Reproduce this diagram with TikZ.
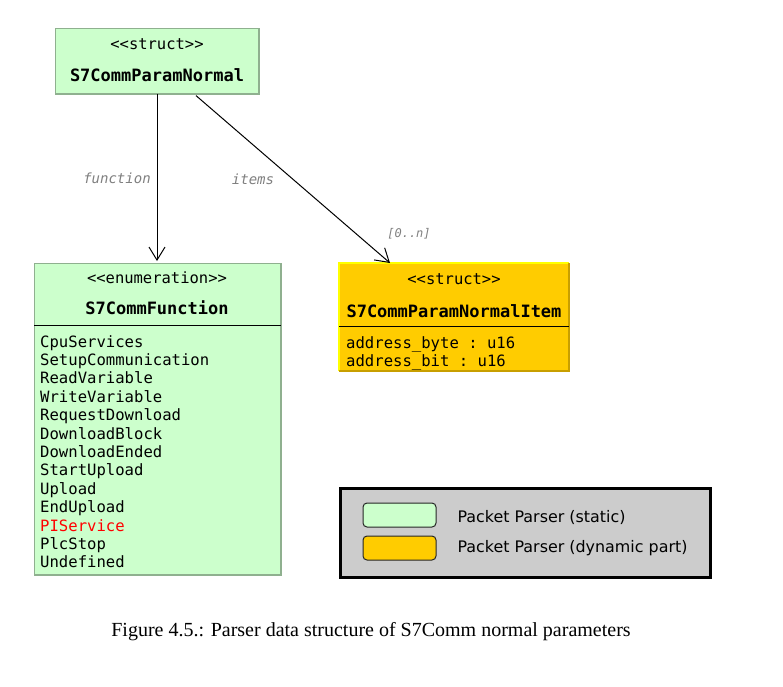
\documentclass[tikz,border=0pt]{standalone}
\usepackage{fontspec}
\setmainfont{Liberation Serif}
\setsansfont{DejaVu Sans}
\setmonofont{DejaVu Sans Mono}
\usetikzlibrary{arrows.meta}

\definecolor{staticgreen}{HTML}{CCFFCC}
\definecolor{staticedge}{HTML}{8FB08F}
\definecolor{dynorange}{HTML}{FFCC00}
\definecolor{dynedge}{HTML}{C89F00}
\definecolor{dynlight}{HTML}{FFFF00}
\definecolor{legendgray}{HTML}{CCCCCC}
\definecolor{labelgray}{HTML}{7F7F7F}

\tikzset{
  classbox/.style={rectangle, inner sep=0pt, anchor=north west},
  stereo/.style={font=\ttfamily\fontsize{15.5}{18}\selectfont},
  classname/.style={font=\ttfamily\bfseries\fontsize{17}{20}\selectfont},
  members/.style={font=\ttfamily\fontsize{15.6}{18.4}\selectfont,
    align=left, anchor=north west, inner sep=0pt},
  rolelabel/.style={font=\ttfamily\itshape\fontsize{14}{16}\selectfont, text=labelgray},
  assoc/.style={line width=1pt, -{Straight Barb[length=13pt,width=16pt]}},
  swatch/.style={rectangle, rounded corners=4pt, draw=black!85, line width=1pt,
    minimum width=73pt, minimum height=24pt, inner sep=0pt},
  legendtext/.style={font=\sffamily\fontsize{15.9}{18}\selectfont, anchor=west}
}

\begin{document}
\begin{tikzpicture}[x=1pt, y=-1pt]
  \useasboundingbox (0,0) rectangle (783,686);

  % struct S7CommParamNormal
  \node (param) [classbox, fill=staticgreen, draw=staticedge, line width=0.6pt,
    minimum width=203pt, minimum height=65pt] at (55,28) {};
  \draw [staticedge, line width=2pt] (param.north east) -- (param.south east) -- (param.south west);
  \node (paramst) [stereo] at (157,44) {<<struct>>};
  \node (paramname) [classname] at (157,75) {S7CommParamNormal};

  % enumeration S7CommFunction
  \node (func) [classbox, fill=staticgreen, draw=staticedge, line width=0.6pt,
    minimum width=246pt, minimum height=311pt] at (34,263) {};
  \draw [staticedge, line width=2pt] (func.north east) -- (func.south east) -- (func.south west);
  \node (funcst) [stereo] at (157,278) {<<enumeration>>};
  \node (funcname) [classname] at (157,308) {S7CommFunction};
  \draw [line width=1pt] ([yshift=-62pt]func.north west) -- ([yshift=-62pt]func.north east);
  \node (funcitems) [members] at (40,335) {CpuServices\\SetupCommunication\\ReadVariable\\
    WriteVariable\\RequestDownload\\DownloadBlock\\DownloadEnded\\StartUpload\\Upload\\
    EndUpload\\\textcolor{red}{PIService}\\PlcStop\\Undefined};

  % struct S7CommParamNormalItem
  \node (item) [classbox, fill=dynorange, minimum width=230pt, minimum height=108pt] at (339,263) {};
  \draw [dynlight, line width=2pt] (item.south west) -- (item.north west) -- (item.north east);
  \draw [dynedge, line width=2pt] (item.north east) -- (item.south east) -- (item.south west);
  \node (itemst) [stereo] at (454,279) {<<struct>>};
  \node (itemname) [classname] at (454,311) {S7CommParamNormalItem};
  \draw [line width=1pt] ([yshift=-63pt]item.north west) -- ([yshift=-63pt]item.north east);
  \node (itemmembers) [members] at (346,336) {address\_byte : u16\\address\_bit : u16};

  % associations
  \draw [assoc] ([xshift=102pt]param.south west) -- ([xshift=123pt,yshift=2pt]func.north west);
  \draw [assoc] ([xshift=141pt,yshift=-2pt]param.south west) -- ([xshift=51pt]item.north west);
  \node (funclabel) [rolelabel] at (117,178) {function};
  \node (itemslabel) [rolelabel] at (253,179) {items};
  \node (multlabel) [rolelabel, font=\ttfamily\itshape\fontsize{12}{14}\selectfont] at (409,234) {[0..n]};

  % legend
  \node (legend) [classbox, fill=legendgray, draw=black, line width=2.5pt,
    minimum width=370pt, minimum height=89pt] at (339,487) {};
  \node (swstatic) [swatch, fill=staticgreen] at (399.5,515) {};
  \node (swdynamic) [swatch, fill=dynorange] at (399.5,548) {};
  \node (lgstatic) [legendtext] at (454,517) {Packet Parser (static)};
  \node (lgdynamic) [legendtext] at (454,548) {Packet Parser (dynamic part)};

  % caption
  \node (caption) [font=\fontsize{20}{24}\selectfont] at (371,632)
    {Figure 4.5.: Parser data structure of S7Comm normal parameters};
\end{tikzpicture}
\end{document}
